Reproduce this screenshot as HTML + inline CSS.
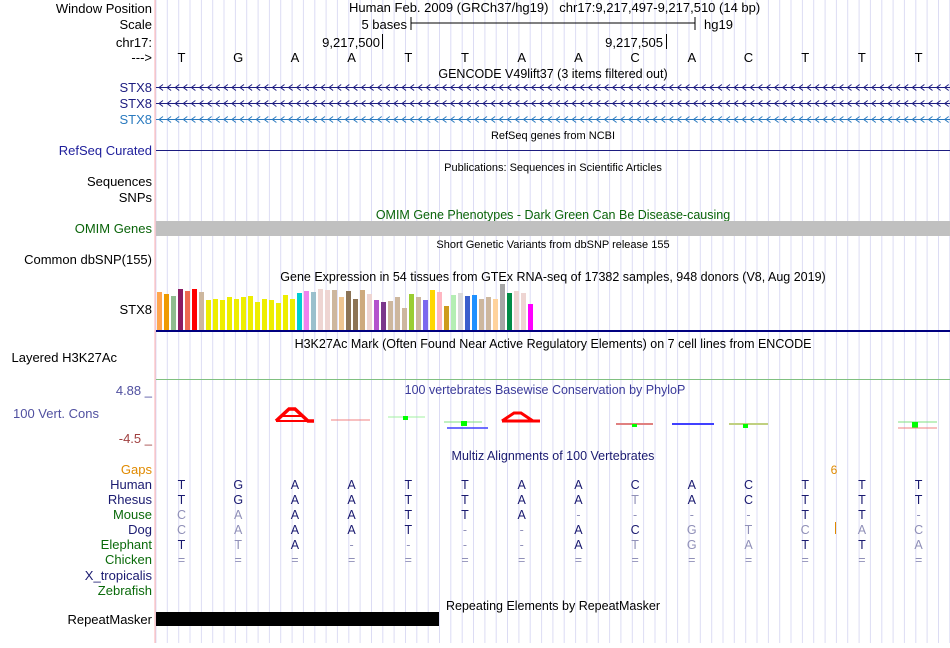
<!DOCTYPE html>
<html><head><meta charset="utf-8">
<style>
html,body{margin:0;padding:0;background:#fff;}
body{width:950px;height:643px;overflow:hidden;position:relative;font-family:"Liberation Sans",Arial,sans-serif;}
svg text{font-family:"Liberation Sans",Arial,sans-serif;}
</style></head>
<body>
<svg id="main" width="950" height="643" xmlns="http://www.w3.org/2000/svg">
 <g id="grid"></g>
 <line x1="155" y1="0" x2="155" y2="643" stroke="#ffb0b0" stroke-width="1"/>
 <g font-size="13" text-anchor="end">
  <text x="152" y="13" fill="#000">Window Position</text>
  <text x="152" y="29" fill="#000">Scale</text>
  <text x="152" y="47" fill="#000">chr17:</text>
  <text x="152" y="62" fill="#000">---&gt;</text>
  <text x="152" y="92" fill="#1c1c80">STX8</text>
  <text x="152" y="108" fill="#1c1c80">STX8</text>
  <text x="152" y="124" fill="#2a7abf">STX8</text>
  <text x="152" y="155" fill="#20209c">RefSeq Curated</text>
  <text x="152" y="186" fill="#000">Sequences</text>
  <text x="152" y="202" fill="#000">SNPs</text>
  <text x="152" y="233" fill="#0a640a">OMIM Genes</text>
  <text x="152" y="264" fill="#000">Common dbSNP(155)</text>
  <text x="152" y="314" fill="#000">STX8</text>
  <text x="117" y="362" fill="#000">Layered H3K27Ac</text>
  <text x="152" y="395" fill="#5050a0">4.88 _</text>
  <text x="99" y="418" fill="#5050a0">100 Vert. Cons</text>
  <text x="152" y="443" fill="#a04040">-4.5 _</text>
  <text x="152" y="474" fill="#e08a00">Gaps</text>
  <text x="152" y="489" fill="#1a1a70">Human</text>
  <text x="152" y="504" fill="#1a1a70">Rhesus</text>
  <text x="152" y="519" fill="#0a6a0a">Mouse</text>
  <text x="152" y="534" fill="#1a1a70">Dog</text>
  <text x="152" y="549" fill="#0a6a0a">Elephant</text>
  <text x="152" y="564" fill="#0a6a0a">Chicken</text>
  <text x="152" y="580" fill="#1a1a70">X_tropicalis</text>
  <text x="152" y="595" fill="#0a6a0a">Zebrafish</text>
  <text x="152" y="624" fill="#000">RepeatMasker</text>
 </g>
 <g font-size="13" fill="#000">
  <text x="349" y="12">Human Feb. 2009 (GRCh37/hg19)&#160;&#160;&#160;chr17:9,217,497-9,217,510 (14 bp)</text>
  <text x="407" y="29" text-anchor="end">5 bases</text>
  <line x1="411" y1="23" x2="695" y2="23" stroke="#000"/>
  <line x1="411" y1="17" x2="411" y2="30" stroke="#000"/>
  <line x1="695" y1="17" x2="695" y2="30" stroke="#000"/>
  <text x="704" y="29">hg19</text>
  <text x="380" y="47" text-anchor="end">9,217,500</text>
  <line x1="382.5" y1="34" x2="382.5" y2="49" stroke="#000"/>
  <text x="663" y="47" text-anchor="end">9,217,505</text>
  <line x1="666.5" y1="34" x2="666.5" y2="49" stroke="#000"/>
 </g>
 <g id="bases" font-size="13" text-anchor="middle"></g>
 <g font-size="12.5" text-anchor="middle">
  <text x="553" y="78" fill="#000">GENCODE V49lift37 (3 items filtered out)</text>
  <text x="553" y="139" fill="#000" font-size="11">RefSeq genes from NCBI</text>
  <text x="553" y="171" fill="#000" font-size="11">Publications: Sequences in Scientific Articles</text>
  <text x="553" y="219" fill="#0a640a">OMIM Gene Phenotypes - Dark Green Can Be Disease-causing</text>
  <text x="553" y="248" fill="#000" font-size="11">Short Genetic Variants from dbSNP release 155</text>
  <text x="553" y="281" fill="#000">Gene Expression in 54 tissues from GTEx RNA-seq of 17382 samples, 948 donors (V8, Aug 2019)</text>
  <text x="553" y="348" fill="#000">H3K27Ac Mark (Often Found Near Active Regulatory Elements) on 7 cell lines from ENCODE</text>
  <text x="545" y="394" fill="#3a3a9a">100 vertebrates Basewise Conservation by PhyloP</text>
  <text x="553" y="460" fill="#1a1a70">Multiz Alignments of 100 Vertebrates</text>
  <text x="553" y="610" fill="#000">Repeating Elements by RepeatMasker</text>
 </g>
 <g>
  <g stroke="#1c1c80">
   <line x1="156" y1="87.5" x2="950" y2="87.5"/>
   <line x1="156" y1="103.5" x2="950" y2="103.5"/>
  </g>
  <line x1="156" y1="119.5" x2="950" y2="119.5" stroke="#2a7abf"/>
  <g id="chevrons"></g>
 </g>
 <line x1="156" y1="150.5" x2="950" y2="150.5" stroke="#1c1c80"/>
 <rect x="156" y="221" width="794" height="15" fill="#c0c0c0"/>
 <g id="gtex"></g>
 <rect x="156" y="330" width="794" height="2" fill="#000080"/>
 <line x1="156" y1="379.5" x2="950" y2="379.5" stroke="#80c080"/>
 <g>
  <path d="M276,421 L289,409 L295,409 L308,421 L314,421" stroke="#f00" stroke-width="3.5" fill="none"/>
  <path d="M283,416 L301,416 M276,421 L314,421" stroke="#f00" stroke-width="2"/>
  <line x1="331" y1="420" x2="370" y2="420" stroke="#f08080"/>
  <line x1="388" y1="417" x2="425" y2="417" stroke="#a0f0a0"/>
  <rect x="403" y="416" width="5" height="4" fill="#0f0"/>
  <line x1="444" y1="422" x2="482" y2="422" stroke="#80e080"/>
  <rect x="461" y="421" width="6" height="5" fill="#0f0"/>
  <line x1="447" y1="428" x2="488" y2="428" stroke="#4040ff" stroke-width="1.5"/>
  <path d="M502,421 L514,413 L521,413 L533,421 L540,421 M502,421 L540,421" stroke="#f00" stroke-width="3" fill="none"/>
  <line x1="616" y1="424" x2="653" y2="424" stroke="#e08080" stroke-width="2"/>
  <rect x="632" y="424" width="5" height="3" fill="#0f0"/>
  <line x1="672" y1="424" x2="714" y2="424" stroke="#4040ff" stroke-width="2"/>
  <line x1="729" y1="424" x2="768" y2="424" stroke="#c0d080" stroke-width="2"/>
  <rect x="743" y="424" width="5" height="4" fill="#0f0"/>
  <line x1="898" y1="422" x2="937" y2="422" stroke="#80e080"/>
  <rect x="912" y="422" width="6" height="6" fill="#0f0"/>
  <line x1="898" y1="428" x2="937" y2="428" stroke="#f08080"/>
 </g>
 <text x="834" y="474" font-size="12" fill="#e08a00" text-anchor="middle">6</text>
 <line x1="835.5" y1="522" x2="835.5" y2="534" stroke="#e08a00"/>
 <g id="align" font-size="12.5" text-anchor="middle"></g>
 <rect x="156" y="612" width="283" height="14" fill="#000"/>
</svg>
<script>
const baseSeq = ["T","G","A","A","T","T","A","A","C","A","C","T","T","T"];
const rhesus = ["T","G","A","A","T","T","A","A","t","A","C","T","T","T"];
const mouse  = ["c","a","A","A","T","T","A","-","-","-","-","T","T","-"];
const dog    = ["c","a","A","A","T","-","-","A","C","g","t","c","a","c"];
const elephant=["T","t","A","-","-","-","-","A","t","g","a","T","T","a"];
const chicken= ["=","=","=","=","=","=","=","=","=","=","=","=","=","="];
const gtexValues=[38,36,34,41,39,41,38,30,31,30,33,31,33,34,28,31,30,27,35,31,37,39,38,41,40,40,33,39,31,40,36,30,28,29,33,22,36,33,30,40,38,24,35,37,34,35,31,33,31,46,37,39,37,26];
const gtexColors=["#FFA54F","#EE9A00","#8FBC8F","#8B1C62","#EE6A50","#FF0000","#CDB79E","#EEEE00","#EEEE00","#EEEE00","#EEEE00","#EEEE00","#EEEE00","#EEEE00","#EEEE00","#EEEE00","#EEEE00","#EEEE00","#EEEE00","#EEEE00","#00CED1","#EE82EE","#9AC0CD","#EED5D2","#EED5D2","#CDB79E","#EEC591","#8B7355","#8B7355","#CDAA7D","#EED5D2","#B452CD","#7A378B","#CDB79E","#CDB79E","#CDB79E","#9ACD32","#CDB79E","#7B68EE","#FFD700","#FFB6C1","#CD9B1D","#B4EEB4","#D9D9D9","#3A5FCD","#1E90FF","#CDB79E","#CDB79E","#FFD39B","#A6A6A6","#008B45","#EED5D2","#EED5D2","#FF00FF"];
const NS="http://www.w3.org/2000/svg";
function mk(tag,attrs,parent){const e=document.createElementNS(NS,tag);for(const k in attrs)e.setAttribute(k,attrs[k]);parent.appendChild(e);return e;}
function xBase(i){return 181.5+56.7*i;}
function xBar(i){return 156+7*i;}
function yBar(v){return 330-v;}
const grid=document.getElementById('grid');
for(let x=156;x<950;x+=11.34){
 const l=mk('line',{x1:x.toFixed(1),y1:0,x2:x.toFixed(1),y2:643,stroke:'#dcdcf4'},grid);
 
 
}
const ch=document.getElementById('chevrons');
[[87.5,'#1c1c80'],[103.5,'#1c1c80'],[119.5,'#2a7abf']].forEach(([y,c])=>{
 for(let x=158;x<948;x+=8.1){
  const p=mk('polyline',{points:`${(x+5).toFixed(1)},${y-3} ${(x+1).toFixed(1)},${y} ${(x+5).toFixed(1)},${y+3}`,fill:'none',stroke:c},ch);
  
  
 }
});
const bg=document.getElementById('bases');
baseSeq.forEach((b,i)=>{
 const t=mk('text',{x:xBase(i),y:62,fill:'#000'},bg);t.textContent=b;
 
 
});
const gx=document.getElementById('gtex');
gtexValues.forEach((v,i)=>{
 const r=mk('rect',{x:xBar(i)+1,y:yBar(v),width:5,height:v,fill:gtexColors[i]},gx);
 
 
});
const ag=document.getElementById('align');
const rows=[[baseSeq,489],[rhesus,504],[mouse,519],[dog,534],[elephant,549],[chicken,564]];
rows.forEach(([seq,y])=>{
 seq.forEach((b,i)=>{
  const light = (b===b.toLowerCase());
  const t=mk('text',{x:xBase(i),y:y,fill:light?'#9090b8':'#1a1a70'},ag);
  t.textContent=b.toUpperCase();
  
  
 });
});
</script>
</body></html>
